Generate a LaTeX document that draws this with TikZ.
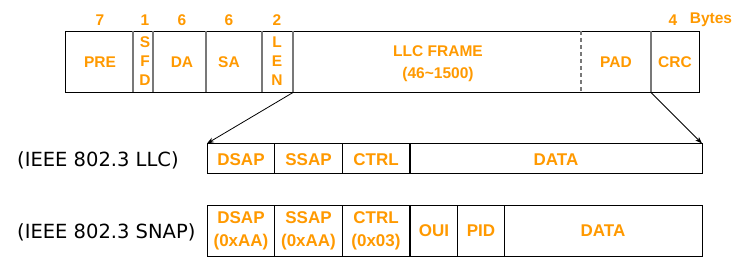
\documentclass[tikz,border=0pt]{standalone}
\usepackage{fontspec}
\setmainfont{Liberation Sans}
\newfontfamily\labfont{DejaVu Sans}
\usetikzlibrary{arrows.meta}
\definecolor{fieldorange}{RGB}{255,153,0}
\definecolor{divgray}{RGB}{120,120,120}
\begin{document}
\begin{tikzpicture}[x=1pt,y=-1pt,
  fld/.style={text=fieldorange,font=\bfseries\fontsize{15.5}{22}\selectfont,align=center,inner sep=0pt},
  bfld/.style={text=fieldorange,font=\bfseries\fontsize{17}{23}\selectfont,align=center,inner sep=0pt},
  vert/.style={text=fieldorange,font=\bfseries\fontsize{15.5}{19}\selectfont,align=center,inner sep=0pt},
  lab/.style={font=\labfont\fontsize{19.5}{22}\selectfont,anchor=west,inner sep=0pt},
  outer/.style={draw=black,line width=1pt},
  divider/.style={draw=divgray,line width=1.5pt},
  thinrule/.style={draw=black,line width=1pt},
  thickrule/.style={draw=black,line width=2.2pt},
  pointer/.style={draw=black,line width=0.8pt,-{Stealth[length=7pt,width=5pt]}}]
\useasboundingbox (0,0) rectangle (742,267);
% ---------- top frame ----------
\draw[outer] (65,31.5) rectangle (699,92.5);
\foreach \x in {133,153,206,262,293,651}{\draw[divider] (\x,31) -- (\x,92.5);}
\draw[divider,line width=1.2pt,dash pattern=on 4pt off 3pt] (581,31.5) -- (581,92.5);
\coordinate (lenbot) at (293,92.5);
\coordinate (crcbot) at (651,92.5);
% byte counts
\node[fld] (n7) at (100,20) {7};
\node[fld] (n1) at (145,20) {1};
\node[fld] (n6a) at (182,20) {6};
\node[fld] (n6b) at (229,20) {6};
\node[fld] (n2) at (277,20) {2};
\node[fld] (n4) at (673,20) {4};
\node[fld] (bytes) at (711,20) {Bytes};
% field names
\node[fld] (pre) at (100,62) {PRE};
\node[vert] (sfd) at (145,61.5) {S\\F\\D};
\node[fld] (da) at (182,62) {DA};
\node[fld] (sa) at (229,62) {SA};
\node[vert] (len) at (277,61.5) {L\\E\\N};
\node[fld] (llc) at (438,64) {LLC FRAME\\(46\textasciitilde1500)};
\node[fld] (pad) at (616,62) {PAD};
\node[fld] (crc) at (675,62) {CRC};
% ---------- LLC row ----------
\draw[outer] (207,143.5) rectangle (702,174);
\coordinate (llctl) at (207,143.5);
\coordinate (llctr) at (702,143.5);
\foreach \x in {274.5,342.5}{\draw[thinrule] (\x,143.5) -- (\x,174);}
\draw[thickrule] (410,143.5) -- (410,174);
\node[lab] (lablc) at (17,160) {(IEEE 802.3 LLC)};
\node[bfld] (dsap1) at (241,160) {DSAP};
\node[bfld] (ssap1) at (308.5,160) {SSAP};
\node[bfld] (ctrl1) at (376,160) {CTRL};
\node[bfld] (data1) at (556,160) {DATA};
% ---------- SNAP row ----------
\draw[outer] (207,205) rectangle (702,256);
\foreach \x in {274.5,342.5,457.5,504.5}{\draw[thinrule] (\x,205) -- (\x,256);}
\draw[thickrule] (410,205) -- (410,256);
\node[lab] (labsnap) at (17,232) {(IEEE 802.3 SNAP)};
\node[bfld] (dsap2) at (241,231) {DSAP\\(0xAA)};
\node[bfld] (ssap2) at (308.5,231) {SSAP\\(0xAA)};
\node[bfld] (ctrl2) at (376,231) {CTRL\\(0x03)};
\node[bfld] (oui) at (434,231) {OUI};
\node[bfld] (pid) at (481,231) {PID};
\node[bfld] (data2) at (603,231) {DATA};
% ---------- pointers ----------
\draw[pointer] (lenbot) -- (llctl);
\draw[pointer] (crcbot) -- (llctr);
\end{tikzpicture}
\end{document}
